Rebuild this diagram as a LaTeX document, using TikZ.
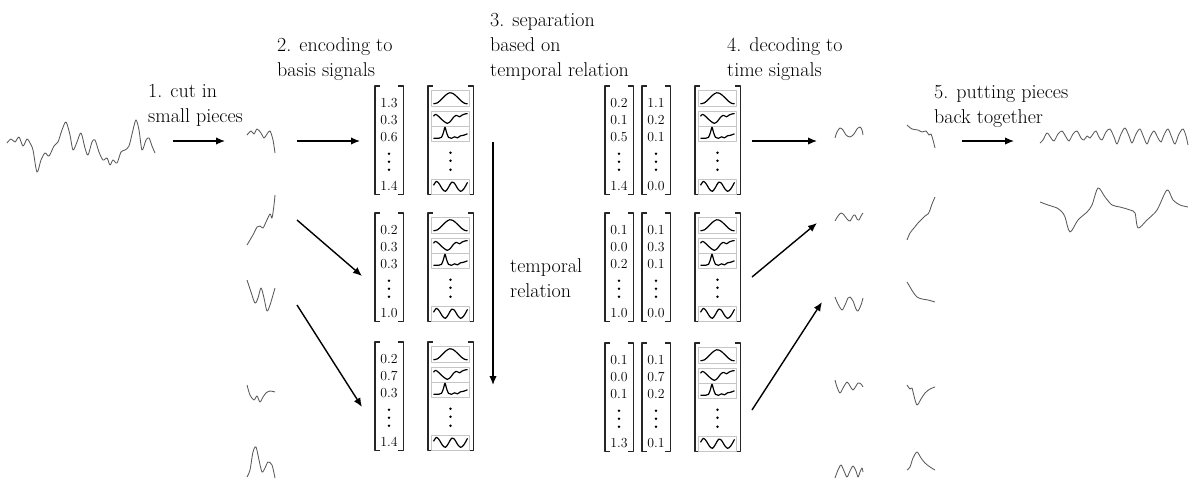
\documentclass[tikz,border=0pt]{standalone}
\usepackage{fontspec}
\usetikzlibrary{arrows.meta,calc}

\tikzset{
  lbl/.style={anchor=north west, inner sep=0pt, align=left,
              font=\rmfamily\fontsize{20}{25}\selectfont},
  num/.style={inner sep=0pt, font=\rmfamily\fontsize{13.8}{15}\selectfont},
  brk/.style={line width=1.4pt, black!85, line cap=butt},
  vecframe/.style={inner sep=0pt, minimum width=28pt, minimum height=108pt},
  basframe/.style={inner sep=0pt, minimum width=45pt, minimum height=108pt},
  minibox/.style={draw=gray!45, line width=0.6pt, minimum width=38pt,
                  minimum height=15pt, inner sep=0pt},
  mini/.style={line width=1.2pt, black},
  sig/.style={line width=0.85pt, black!65},
  arr/.style={line width=1.4pt, -{Latex[length=9pt,width=7.5pt]}},
  wbump/.pic={\draw[mini] plot[smooth] coordinates {(-17,5.5) (-13,4.5) (-9,1) (-5,-3) (-1,-5.5) (3,-4.5) (7,-1) (11,3) (14,5) (17,5.5)};},
  wdip/.pic={\draw[mini] plot[smooth] coordinates {(-17,-2) (-15,-4) (-12,-2) (-9,1) (-6,3.5) (-3,5) (0,3) (3,-1) (6,-3) (9,-1.5) (12,-3.5) (15,-4.5) (17,-4.5)};},
  wspike/.pic={\draw[mini] plot[smooth] coordinates {(-17,5) (-12,5) (-9,4) (-7,-1) (-5.5,-6) (-4,-1) (-2,4) (1,5) (4,3.5) (7,4.5) (10,2.5) (13,2) (17,0.5)};},
  wsine/.pic={\draw[mini] plot[smooth] coordinates {(-17,-1) (-14,-5) (-11,-2) (-8,3) (-5,5) (-2,1) (1,-4) (4,-3) (7,2) (10,5) (13,3) (16,-2) (17,-4)};},
}

% coefficient vector: name, left x, top y, three entries, last entry
\newcommand\coefvec[7]{%
  \node[vecframe] (#1) at ({#2+14},{#3+54}) {};
  \draw[brk] ([xshift=5]#1.north west) -- (#1.north west) -- (#1.south west) -- ([xshift=5]#1.south west);
  \draw[brk] ([xshift=-5]#1.north east) -- (#1.north east) -- (#1.south east) -- ([xshift=-5]#1.south east);
  \node[num] (#1-a) at ([yshift=-17]#1.north) {#4};
  \node[num] (#1-b) at ([yshift=-34]#1.north) {#5};
  \node[num] (#1-c) at ([yshift=-51]#1.north) {#6};
  \foreach \d in {68,76,84} \fill ([yshift=-\d]#1.north) circle[radius=1.4pt];
  \node[num] (#1-z) at ([yshift=-100]#1.north) {#7};
}

% column of basis signals: name, left x, top y
\newcommand\basiscol[3]{%
  \node[basframe] (#1) at ({#2+22.5},{#3+54}) {};
  \draw[brk] ([xshift=5]#1.north west) -- (#1.north west) -- (#1.south west) -- ([xshift=5]#1.south west);
  \draw[brk] ([xshift=-5]#1.north east) -- (#1.north east) -- (#1.south east) -- ([xshift=-5]#1.south east);
  \node[minibox, minimum height=16pt] (#1-1) at ([yshift=-12.5]#1.north) {};
  \node[minibox] (#1-2) at ([yshift=-32.5]#1.north) {};
  \node[minibox] (#1-3) at ([yshift=-47.5]#1.north) {};
  \node[minibox] (#1-4) at ([yshift=-100.5]#1.north) {};
  \pic at (#1-1) {wbump};
  \pic at (#1-2) {wdip};
  \pic at (#1-3) {wspike};
  \pic at (#1-4) {wsine};
  \foreach \d in {67,75,84} \fill ([yshift=-\d]#1.north) circle[radius=1.4pt];
}

\begin{document}
\begin{tikzpicture}[x=1pt, y=-1pt, line join=round]
\useasboundingbox (0,0) rectangle (1200,482);

% step labels
\node[lbl] (t1) at (148,84) {1. cut in\\small pieces};
\node[lbl] (t2) at (277,37) {2. encoding to\\basis signals};
\node[lbl] (t3) at (490,13) {3. separation\\based on\\temporal relation};
\node[lbl] (t4) at (727,37) {4. decoding to\\time signals};
\node[lbl] (t5) at (934,85) {5. putting pieces\\back together};
\node[lbl] (tr) at (510,258) {temporal\\relation};

% input recording
\draw[sig] plot[smooth, tension=0.5] coordinates {(7,143) (11,139) (15,142) (19,137) (23,146) (27,139) (30,143) (33,150) (37,172) (41,160) (45,153) (49,156) (54,146) (58,142) (62,130) (66,122) (70,135) (73,150) (77,142) (81,133) (85,148) (88,155) (92,142) (95,140) (99,152) (103,160) (107,158) (110,165) (113,160) (117,163) (121,152) (125,150) (129,146) (133,130) (136,120) (139,130) (142,150) (146,140) (149,138) (152,146) (155,153)};

% short pieces
\draw[sig] plot[smooth, tension=0.5] coordinates {(247,135) (251,131) (254,134) (257,129) (261,133) (264,138) (267,134) (270,131) (273,140) (275,153)};
\draw[sig] plot[smooth, tension=0.5] coordinates {(247,245) (250,240) (254,233) (257,227) (260,226) (263,228) (266,222) (270,214) (272,218) (274,205) (275,195)};
\draw[sig] plot[smooth, tension=0.5] coordinates {(247,280) (251,292) (255,303) (258,298) (261,288) (264,298) (267,311) (270,305) (273,295) (275,288)};
\draw[sig] plot[smooth, tension=0.5] coordinates {(247,385) (250,395) (254,400) (257,396) (260,402) (263,397) (266,393) (270,391) (275,392)};
\draw[sig] plot[smooth, tension=0.5] coordinates {(247,477) (250,470) (253,452) (256,447) (259,460) (262,472) (265,468) (268,462) (272,465) (275,478)};

% encoding of the pieces
\coefvec{lc1}{375}{86}{1.3}{0.3}{0.6}{1.4}
\coefvec{lc2}{375}{213}{0.2}{0.3}{0.3}{1.0}
\coefvec{lc3}{375}{342}{0.2}{0.7}{0.3}{1.4}
\basiscol{lb1}{428}{86}
\basiscol{lb2}{428}{213}
\basiscol{lb3}{428}{342}

% separated coefficients
\coefvec{ra1}{605}{86}{0.2}{0.1}{0.5}{1.4}
\coefvec{ra2}{605}{213}{0.1}{0.0}{0.2}{1.0}
\coefvec{ra3}{605}{343}{0.1}{0.0}{0.1}{1.3}
\coefvec{rb1}{642}{86}{1.1}{0.2}{0.1}{0.0}
\coefvec{rb2}{642}{213}{0.1}{0.3}{0.1}{0.0}
\coefvec{rb3}{642}{343}{0.1}{0.7}{0.2}{0.1}
\basiscol{rc1}{695}{86}
\basiscol{rc2}{695}{213}
\basiscol{rc3}{695}{343}

% decoded pieces, first source
\draw[sig] plot[smooth, tension=0.5] coordinates {(835,138) (837,132) (840,128) (843,130) (846,135) (850,137) (854,134) (857,129) (860,127) (862,130) (863,135)};
\draw[sig] plot[smooth, tension=0.5] coordinates {(835,221) (838,216) (841,213) (844,215) (847,219) (850,221) (853,216) (855,215) (857,219) (859,220) (861,216) (863,213)};
\draw[sig] plot[smooth, tension=0.5] coordinates {(835,297) (838,304) (842,310) (845,305) (848,298) (850,297) (853,301) (856,309) (858,311) (861,305) (863,298)};
\draw[sig] plot[smooth, tension=0.5] coordinates {(835,380) (837,387) (840,393) (843,388) (847,382) (850,386) (853,390) (856,386) (858,383) (861,384) (863,387)};
\draw[sig] plot[smooth, tension=0.5] coordinates {(835,478) (838,470) (841,465) (844,471) (847,477) (850,471) (853,466) (856,471) (858,477) (860,472) (862,468) (863,472)};

% decoded pieces, second source
\draw[sig] plot[smooth, tension=0.5] coordinates {(907,125) (912,129) (918,130) (922,132) (926,131) (929,135) (931,134) (933,140) (935,148)};
\draw[sig] plot[smooth, tension=0.5] coordinates {(907,240) (910,233) (914,228) (918,223) (922,219) (925,216) (928,214) (930,210) (932,204) (935,197)};
\draw[sig] plot[smooth, tension=0.5] coordinates {(907,282) (910,287) (913,292) (917,297) (922,299) (928,300) (935,302)};
\draw[sig] plot[smooth, tension=0.5] coordinates {(907,385) (910,389) (912,388) (914,396) (917,405) (921,399) (925,393) (930,389) (935,387)};
\draw[sig] plot[smooth, tension=0.5] coordinates {(907,470) (910,467) (913,458) (917,452) (921,458) (925,463) (930,467) (935,470)};

% reassembled sources
\draw[sig] plot[smooth, tension=0.5] coordinates {(1040,143) (1043,140) (1047,133) (1051,138) (1054,141) (1058,134) (1062,131) (1066,137) (1069,141) (1073,134) (1077,131) (1081,138) (1084,140) (1087,136) (1090,138) (1093,134) (1096,131) (1099,137) (1102,140) (1106,132) (1110,129) (1114,137) (1117,144) (1121,134) (1125,128) (1129,136) (1132,143) (1136,134) (1140,129) (1144,138) (1147,144) (1150,137) (1154,131) (1158,138) (1161,142) (1164,135) (1168,129) (1172,138) (1175,144) (1179,134) (1183,129) (1186,136) (1188,145)};
\draw[sig] plot[smooth, tension=0.5] coordinates {(1040,202) (1048,205) (1057,208) (1062,212) (1065,217) (1070,232) (1078,220) (1087,212) (1092,205) (1098,188) (1105,197) (1112,205) (1120,207) (1130,210) (1135,213) (1138,228) (1147,220) (1157,210) (1167,190) (1173,200) (1180,205) (1188,207)};

% arrow end points
\coordinate (cutS) at (173,141);
\coordinate (cutE) at (225,141);
\coordinate (p1) at (297,141);
\coordinate (p2) at (297,220);
\coordinate (p3) at (297,305);
\coordinate (e1) at (360,141);
\coordinate (e2) at (362,276);
\coordinate (e3) at (362,407);
\coordinate (sepS) at (493,142);
\coordinate (sepE) at (493,385);
\coordinate (r1) at (752,141);
\coordinate (r2) at (752,277);
\coordinate (r3) at (752,410);
\coordinate (d1) at (817,141);
\coordinate (d2) at (817,223);
\coordinate (d3) at (822,302);
\coordinate (jS) at (962,141);
\coordinate (jE) at (1014,141);

\draw[arr] (cutS) -- (cutE);
\draw[arr] (p1) -- (e1);
\draw[arr] (p2) -- (e2);
\draw[arr] (p3) -- (e3);
\draw[arr] (sepS) -- (sepE);
\draw[arr] (r1) -- (d1);
\draw[arr] (r2) -- (d2);
\draw[arr] (r3) -- (d3);
\draw[arr] (jS) -- (jE);
\end{tikzpicture}
\end{document}
